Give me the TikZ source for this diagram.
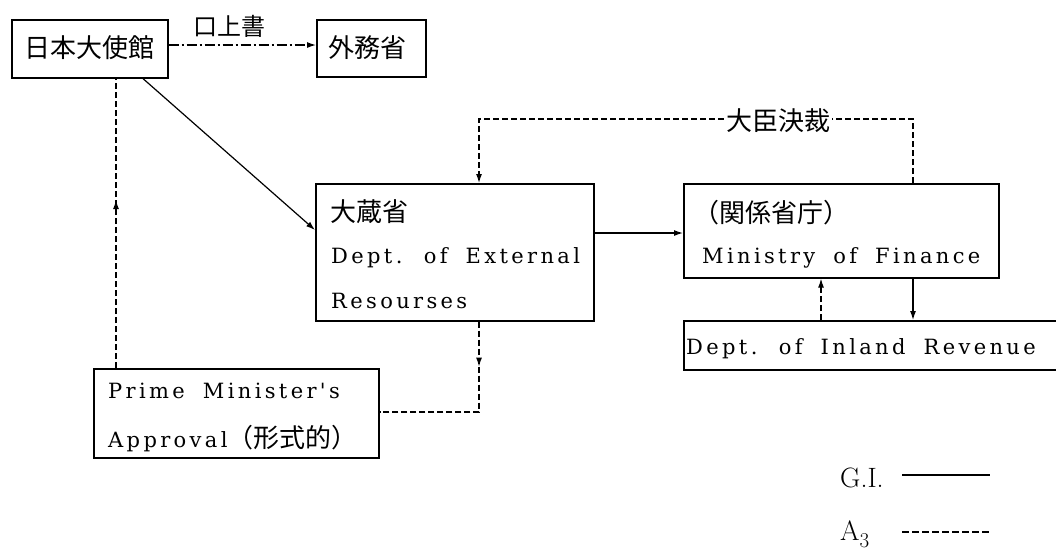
\documentclass[tikz,border=0pt]{standalone}
\usepackage{fontspec}
\newfontfamily\cjk{Noto Sans CJK JP}
\newfontfamily\latf{DejaVu Serif}[LetterSpace=16, WordSpace=1.8]
\usetikzlibrary{arrows.meta,decorations.markings}
\tikzset{
  box/.style={draw, line width=1.6pt, inner sep=0pt, anchor=north west},
  lt/.style={anchor=base west, inner sep=0pt, font=\fontsize{21}{25}\latf},
  jt/.style={anchor=west, inner sep=0pt, font=\fontsize{26}{30}\cjk},
  legtxt/.style={anchor=base west, inner sep=0pt, font=\fontsize{28}{32}\selectfont},
  conn/.style={line width=1.2pt},
  dsh/.style={conn, dash pattern=on 6pt off 3pt},
  dashdot/.style={conn, dash pattern=on 10pt off 3pt on 2pt off 3pt},
  tip/.style={-{Latex[length=9pt,width=6pt]}},
  midarrow/.style={postaction={decorate}, decoration={markings,
      mark=at position #1 with {\arrow{Latex[length=9pt,width=6pt]}}}}
}
\begin{document}
\begin{tikzpicture}[x=1pt,y=-1pt]
\useasboundingbox (0,0) rectangle (1056,552);

% boxes
\node[box, minimum width=156pt, minimum height=58pt] (emb) at (11,19) {};
\node[box, minimum width=109pt, minimum height=57pt] (mofa) at (316,19) {};
\node[box, minimum width=278pt, minimum height=137pt] (mof) at (315,183) {};
\node[box, minimum width=315pt, minimum height=94pt] (rel) at (683,183) {};
\node[box, minimum width=400pt, minimum height=49pt] (inl) at (683,320) {};
\node[box, minimum width=285pt, minimum height=89pt] (pm) at (93,368) {};

% texts
\node[jt] (tEmb) at (24,48) {日本大使館};
\node[jt] (tMofa) at (328,48) {外務省};
\node[jt, font=\fontsize{24}{28}\cjk] (tKojo) at (193,26) {口上書};
\node[jt] (tMof1) at (330,212) {大蔵省};
\node[lt] (tMof2) at (331,263) {Dept. of External};
\node[lt] (tMof3) at (331,308) {Resourses};
\node[jt] (tRel1) at (693,213) {（関係省庁）};
\node[lt] (tRel2) at (702,263) {Ministry of Finance};
\node[lt] (tInl) at (686,354) {Dept. of Inland Revenue};
\node[lt] (tPm1) at (108,398) {Prime Minister's};
\node[lt] (tPm2) at (108,447) {Approval{\fontsize{26}{30}\cjk （形式的）}};

% helper coordinates
\coordinate (cA) at (116,0);
\coordinate (cB) at (479,0);
\coordinate (cC) at (913,0);
\coordinate (cD) at (821,0);
\coordinate (cE) at (143,0);
\coordinate (cU) at (0,45);
\coordinate (cW) at (0,119);
\coordinate (cV) at (0,412);
\coordinate (cY) at (0,230);
\coordinate (cZ) at (0,233);

% label of the loop
\node[jt, anchor=center, inner sep=2pt] (tDaijin) at (778,121) {大臣決裁};

% connectors
\draw[dashdot, tip] (emb.east |- cU) -- (mofa.west |- cU);
\draw[conn, tip] (cE |- emb.south) -- (mof.west |- cY);
\draw[dsh, midarrow=168pt] (cA |- pm.north) -- (cA |- emb.south);
\draw[conn, tip] (mof.east |- cZ) -- (rel.west |- cZ);
\draw[dsh] (cC |- rel.north) |- (tDaijin.east |- cW);
\draw[dsh, tip] (tDaijin.west |- cW) -| (cB |- mof.north);
\draw[dsh, midarrow=45pt] (cB |- mof.south) |- (pm.east |- cV);
\draw[dsh, tip] (cD |- inl.north) -- (cD |- rel.south);
\draw[conn, tip] (cC |- rel.south) -- (cC |- inl.north);

% legend
\node[legtxt] (lgGI) at (840,487) {G.I.};
\node[legtxt] (lgA) at (840,540) {A\raisebox{-7pt}{\fontsize{21}{24}\selectfont 3}};
\coordinate (lg1a) at (902,475);
\coordinate (lg1b) at (990,475);
\coordinate (lg2a) at (902,532);
\coordinate (lg2b) at (992,532);
\draw[conn] (lg1a) -- (lg1b);
\draw[conn, dash pattern=on 7pt off 3pt] (lg2a) -- (lg2b);
\end{tikzpicture}
\end{document}
